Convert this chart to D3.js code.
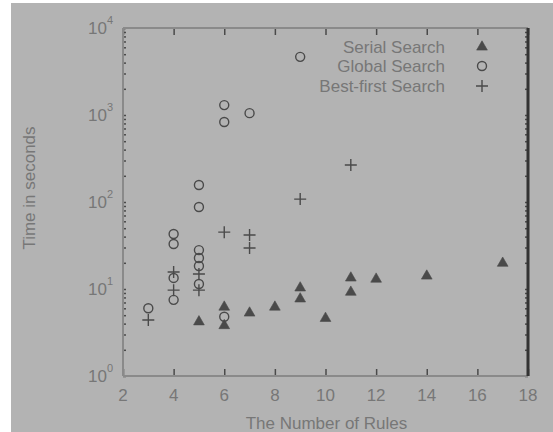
<!DOCTYPE html>
<html>
<head>
<meta charset="utf-8">
<script src="https://cdn.jsdelivr.net/npm/d3@7"></script>
<style>
  body { margin: 0; background: #fff; }
  svg { display: block; font-family: "Liberation Sans", Arial, sans-serif; }
</style>
</head>
<body>
<div id="chart"></div>
<script>
// values
var xTicks = [2, 4, 6, 8, 10, 12, 14, 16, 18];
var yExponents = [0, 1, 2, 3, 4];

var serialRules = [5, 6, 6, 7, 8, 9, 9, 10, 11, 11, 12, 14, 17];
var serialTime  = [4.2, 6.2, 3.8, 5.3, 6.2, 10.3, 7.7, 4.6, 13.4, 9.2, 13, 14.1, 19.8];

var globalRules = [3, 4, 4, 4, 4, 5, 5, 5, 5, 5, 5, 6, 6, 6, 7, 9];
var globalTime  = [6.0, 42.9, 32.9, 13.4, 7.5, 157, 87.5, 28, 22.7, 18.4, 11.4, 1300, 830, 4.8, 1050, 4660];

var bestRules = [3, 4, 4, 5, 5, 6, 7, 7, 9, 11];
var bestTime  = [4.4, 15.7, 9.7, 14.9, 9.7, 45, 41.7, 29.6, 108, 266];

var legendNames = ["Serial Search", "Global Search", "Best-first Search"];

var W = 553, H = 432;
var m = {l: 123, r: 25, t: 28, b: 56};
var ink = "#4a4a4a", textCol = "#777", axisCol = "#8a8a8a";
var fs = 17;

var svg = d3.select("#chart").append("svg").attr("width", W).attr("height", H);
svg.append("rect").attr("x", 11).attr("y", 3).attr("width", W - 11).attr("height", H - 3)
   .attr("fill", "#b3b3b3");

var x = d3.scaleLinear().domain([2, 18]).range([m.l, W - m.r]);
var y = d3.scaleLog().domain([1, 1e4]).range([H - m.b, m.t]);

// minor log ticks
var minor = [];
for (var e = 0; e < 4; e++) for (var k = 1; k < 10; k++) minor.push(k * Math.pow(10, e));
minor.push(1e4);

var plot = svg.append("g");

// left / right tick marks (inward)
plot.append("g").attr("transform", "translate(" + x(2) + ",0)")
  .call(d3.axisRight(y).tickValues(minor).tickSize(3).tickFormat(""))
  .call(function (g) {
    g.select(".domain").remove();
    g.selectAll("line").attr("stroke", ink).attr("stroke-width", 1.5);
  });
plot.append("g").attr("transform", "translate(" + x(18) + ",0)")
  .call(d3.axisLeft(y).tickValues(minor).tickSize(3).tickFormat(""))
  .call(function (g) {
    g.select(".domain").remove();
    g.selectAll("line").attr("stroke", ink).attr("stroke-width", 1.5);
  });

// bottom / top tick marks (inward)
plot.append("g").attr("transform", "translate(0," + y(1) + ")")
  .call(d3.axisTop(x).tickValues(xTicks).tickSize(7).tickFormat(""))
  .call(function (g) {
    g.select(".domain").remove();
    g.selectAll("line").attr("stroke", ink).attr("stroke-width", 1.5);
  });
plot.append("g").attr("transform", "translate(0," + y(1e4) + ")")
  .call(d3.axisBottom(x).tickValues(xTicks).tickSize(7).tickFormat(""))
  .call(function (g) {
    g.select(".domain").remove();
    g.selectAll("line").attr("stroke", ink).attr("stroke-width", 1.5);
  });

// frame
plot.append("line").attr("x1", x(2)).attr("x2", x(18)).attr("y1", y(1)).attr("y2", y(1))
  .attr("stroke", axisCol).attr("stroke-width", 2);
plot.append("line").attr("x1", x(2)).attr("x2", x(18)).attr("y1", y(1e4)).attr("y2", y(1e4))
  .attr("stroke", axisCol).attr("stroke-width", 2);
plot.append("line").attr("x1", x(2)).attr("x2", x(2)).attr("y1", y(1)).attr("y2", y(1e4))
  .attr("stroke", axisCol).attr("stroke-width", 2);
plot.append("line").attr("x1", x(18)).attr("x2", x(18)).attr("y1", y(1)).attr("y2", y(1e4))
  .attr("stroke", "#333").attr("stroke-width", 3);

// x tick labels
svg.append("g").selectAll("text").data(xTicks).enter().append("text")
  .attr("x", function (d) { return x(d); })
  .attr("y", y(1) + 25)
  .attr("text-anchor", "middle")
  .attr("font-size", fs).attr("fill", textCol)
  .text(function (d) { return d; });

// y tick labels 10^n
var yl = svg.append("g").selectAll("text").data(yExponents).enter().append("text")
  .attr("x", x(2) - 35)
  .attr("y", function (d) { return y(Math.pow(10, d)) + 6; })
  .attr("font-size", fs).attr("fill", textCol);
yl.append("tspan").text("10");
yl.append("tspan").attr("dy", -10).attr("font-size", 11).text(function (d) { return d; });

// axis titles
svg.append("text").attr("x", (x(2) + x(18)) / 2 + 1).attr("y", 429)
  .attr("text-anchor", "middle").attr("font-size", fs).attr("fill", textCol)
  .text("The Number of Rules");
svg.append("text")
  .attr("transform", "translate(35," + 188 + ") rotate(-90)")
  .attr("text-anchor", "middle").attr("font-size", fs).attr("fill", textCol)
  .text("Time in seconds");

// markers
function tri(g, cx, cy) {
  g.append("path").attr("d", d3.symbol().type(d3.symbolTriangle).size(50)())
    .attr("transform", "translate(" + cx + "," + cy + ")")
    .attr("fill", ink).attr("stroke", ink).attr("stroke-width", 0.6);
}
function circ(g, cx, cy) {
  g.append("circle").attr("cx", cx).attr("cy", cy).attr("r", 4.5)
    .attr("fill", "none").attr("stroke", ink).attr("stroke-width", 1.4);
}
function plus(g, cx, cy) {
  g.append("path").attr("d", "M" + (cx - 6) + "," + cy + "H" + (cx + 6) + "M" + cx + "," + (cy - 6) + "V" + (cy + 6))
    .attr("stroke", ink).attr("stroke-width", 1.4);
}

var marks = svg.append("g");
serialRules.forEach(function (r, i) { tri(marks, x(r), y(serialTime[i])); });
globalRules.forEach(function (r, i) { circ(marks, x(r), y(globalTime[i])); });
bestRules.forEach(function (r, i) { plus(marks, x(r), y(bestTime[i])); });

// legend
var legY = [47, 66, 86];
var drawers = [tri, circ, plus];
var leg = svg.append("g");
legendNames.forEach(function (n, i) {
  leg.append("text").attr("x", 445).attr("y", legY[i] + 6)
    .attr("text-anchor", "end").attr("font-size", fs).attr("fill", textCol).text(n);
  drawers[i](leg, 482, legY[i]);
});
</script>
</body>
</html>
